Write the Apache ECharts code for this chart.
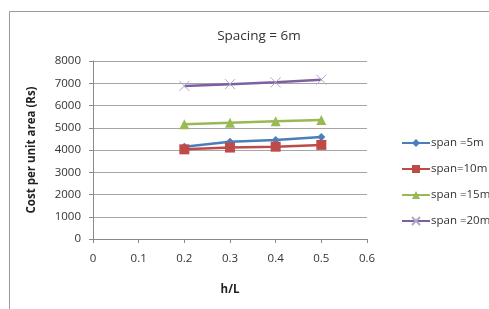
<!DOCTYPE html>
<html>
  <head>
    <meta charset="utf-8" />
    <title>Spacing = 6m</title>
    <script src="https://cdn.jsdelivr.net/npm/echarts@6/dist/echarts.min.js"></script>
    <style>
      body { margin: 0; background: #fff; }
    </style>
  </head>
  <body>
    <div id="main" style="width: 489px;height: 309px;"></div>
    <script type="text/javascript">
      var hl = [0.2, 0.3, 0.4, 0.5]
      var span5 = [4150, 4370, 4450, 4580]
      var span10 = [4030, 4110, 4150, 4230]
      var span15 = [5160, 5230, 5290, 5350]
      var span20 = [6880, 6960, 7040, 7160]
      var names = ['span =5m', 'span=10m', 'span =15m', 'span =20m']

      function pairs(vals) {
        return vals.map(function (v, i) { return [hl[i], v] })
      }

      var font = 'Open Sans, Liberation Sans, sans-serif'
      var myChart = echarts.init(document.getElementById('main'))

      var option = {
        animation: false,
        backgroundColor: '#fff',
        title: {
          text: 'Spacing = 6m',
          left: 254,
          textAlign: 'center',
          top: 24,
          textStyle: { fontFamily: font, fontSize: 13.5, fontWeight: 'normal', color: '#333' }
        },
        graphic: [
          {
            type: 'rect',
            shape: { x: 9.5, y: 11.5, width: 520, height: 320 },
            style: { fill: 'none', stroke: '#9a9a9a', lineWidth: 1 }
          }
        ],
        legend: {
          orient: 'vertical',
          left: 396,
          top: 132,
          itemWidth: 28,
          itemHeight: 10,
          itemGap: 14,
          textStyle: { fontFamily: font, fontSize: 11.5, color: '#333', padding: [0, 0, 0, -4] },
          data: names
        },
        grid: { left: 93, right: 122, top: 61, bottom: 70 },
        xAxis: {
          type: 'value',
          min: 0,
          max: 0.6,
          interval: 0.1,
          name: 'h/L',
          nameLocation: 'middle',
          nameGap: 45,
          nameTextStyle: { fontFamily: font, fontSize: 11.5, fontWeight: 'bold', color: '#222' },
          axisLine: { show: true, lineStyle: { color: '#8a8a8a' } },
          axisTick: { show: true, length: 4, lineStyle: { color: '#8a8a8a' } },
          splitLine: { show: false },
          axisLabel: { fontFamily: font, fontSize: 11.5, color: '#333', margin: 14 }
        },
        yAxis: {
          type: 'value',
          min: 0,
          max: 8000,
          interval: 1000,
          name: 'Cost per unit area (Rs)',
          nameLocation: 'middle',
          nameGap: 55,
          nameTextStyle: { fontFamily: font, fontSize: 11.5, fontWeight: 'bold', color: '#222' },
          axisLine: { show: true, lineStyle: { color: '#8a8a8a' } },
          axisTick: { show: true, length: 4, lineStyle: { color: '#8a8a8a' } },
          splitLine: { show: true, lineStyle: { color: '#a6a6a6' } },
          axisLabel: {
            fontFamily: font, fontSize: 11.5, color: '#333', margin: 12,
            formatter: function (v) { return String(v) }
          }
        },
        series: [
          {
            name: names[0], type: 'line', data: pairs(span5),
            symbol: 'diamond', symbolSize: 8,
            itemStyle: { color: '#4a7ebb' }, lineStyle: { width: 2.5, color: '#4a7ebb' }
          },
          {
            name: names[1], type: 'line', data: pairs(span10),
            symbol: 'rect', symbolSize: 10,
            itemStyle: { color: '#be4b48' }, lineStyle: { width: 2.5, color: '#be4b48' }
          },
          {
            name: names[2], type: 'line', data: pairs(span15),
            symbol: 'triangle', symbolSize: 10,
            itemStyle: { color: '#98b954' }, lineStyle: { width: 2.5, color: '#98b954' }
          },
          {
            name: names[3], type: 'line', data: pairs(span20),
            symbol: 'path://M0,0L10,10M10,0L0,10', symbolSize: 10,
            itemStyle: { color: '#b3a6cc', borderColor: '#b3a6cc', borderWidth: 1 },
            lineStyle: { width: 2.5, color: '#7d60a0' }
          }
        ]
      }
      myChart.setOption(option)
    </script>
  </body>
</html>
